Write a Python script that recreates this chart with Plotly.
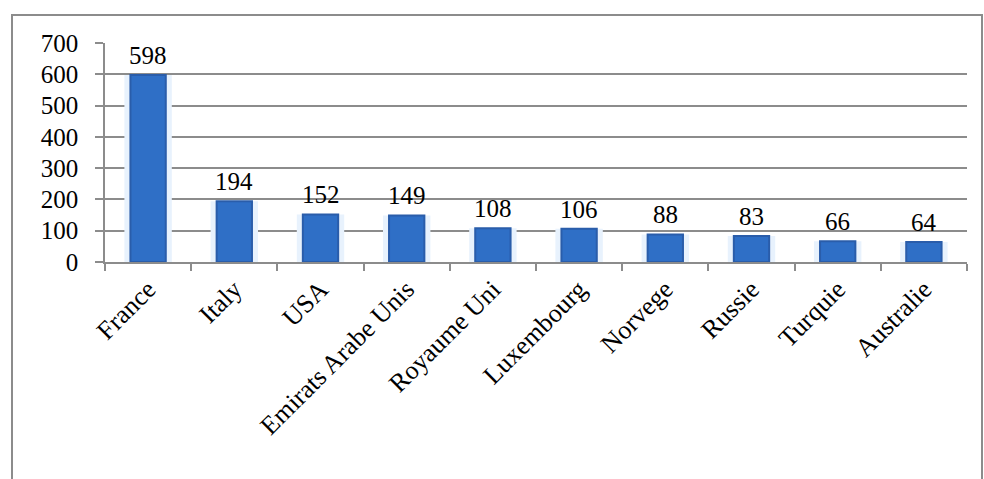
import plotly.graph_objects as go

countries = ["France", "Italy", "USA", "Emirats Arabe Unis", "Royaume Uni",
             "Luxembourg", "Norvege", "Russie", "Turquie", "Australie"]
values = [598, 194, 152, 149, 108, 106, 88, 83, 66, 64]
y_ticks = [0, 100, 200, 300, 400, 500, 600, 700]

W, H = 984, 479
ML, MR, MT, MB = 105, 17, 43, 217
pw, ph = W - ML - MR, H - MT - MB

FONT = "Liberation Serif"

fig = go.Figure()

# soft halo behind each bar
fig.add_trace(go.Bar(
    x=countries, y=values, width=0.55,
    marker=dict(color="rgba(232,242,253,1)", line=dict(width=0)),
    hoverinfo="skip", showlegend=False,
))
# main bars
fig.add_trace(go.Bar(
    x=countries, y=values, width=0.41,
    marker=dict(color="#2F6FC6", line=dict(color="#2A5DAA", width=2)),
    showlegend=False,
))

for c, v in zip(countries, values):
    fig.add_annotation(
        x=c, y=v, text=str(v), showarrow=False,
        yanchor="bottom", yshift=4,
        font=dict(family=FONT, size=25, color="#000000"),
    )

# outer chart frame (bottom edge runs off the page)
fig.add_shape(
    type="rect", xref="paper", yref="paper",
    x0=(12 - ML) / pw, x1=(982 - ML) / pw,
    y0=(H - MB - 495) / ph, y1=(H - MB - 15) / ph,
    line=dict(color="#8C8C8C", width=2), fillcolor="rgba(0,0,0,0)",
    layer="below",
)

fig.update_layout(
    width=W, height=H,
    margin=dict(l=ML, r=MR, t=MT, b=MB),
    paper_bgcolor="white", plot_bgcolor="white",
    barmode="overlay",
    font=dict(family=FONT, color="#000000"),
    xaxis=dict(
        type="category",
        showgrid=False,
        showline=True, linecolor="#8C8C8C", linewidth=1.5,
        ticks="outside", tickson="boundaries", ticklen=7,
        tickcolor="#8C8C8C", tickwidth=1.5,
        tickangle=-45,
        tickfont=dict(family=FONT, size=26, color="#000000"),
    ),
    yaxis=dict(
        range=[0, 700],
        tickvals=y_ticks,
        ticktext=[str(t) for t in y_ticks],
        showgrid=True, gridcolor="#8C8C8C", gridwidth=1.5,
        showline=True, linecolor="#8C8C8C", linewidth=1.5,
        ticks="outside", ticklen=8, tickcolor="#8C8C8C", tickwidth=1.5,
        ticklabelstandoff=12,
        zeroline=False,
        tickfont=dict(family=FONT, size=25, color="#000000"),
    ),
)

fig.write_html("out.html")
